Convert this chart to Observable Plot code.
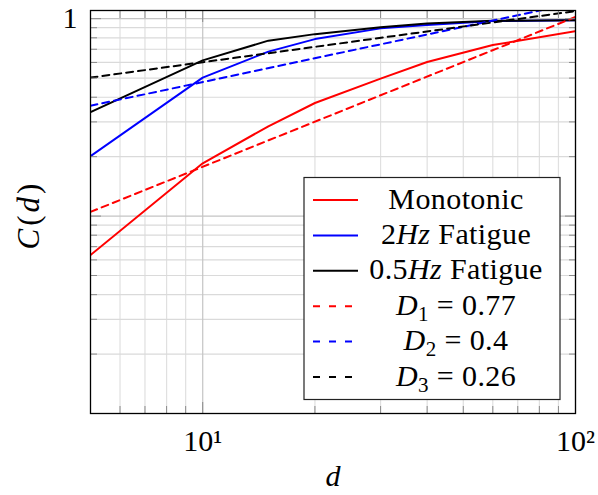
<!DOCTYPE html>
<html><head><meta charset="utf-8">
<script src="https://cdn.jsdelivr.net/npm/d3@7"></script>
<script src="https://cdn.jsdelivr.net/npm/@observablehq/plot@0.6"></script>
<style>
html,body{margin:0;padding:0;background:#fff;}
#chart{position:relative;width:598px;height:495px;}
svg, svg text, svg tspan{font-family:"Liberation Serif","DejaVu Serif","Noto Serif",serif !important;}
</style></head><body><div id="chart"></div>
<script>
// ---- data ----
const dValues = [5, 10, 15, 20, 30, 40, 60, 100];
const monotonic = [0.0635, 0.185, 0.285, 0.374, 0.497, 0.603, 0.735, 0.865];
const fatigue2Hz = [0.201, 0.503, 0.681, 0.788, 0.893, 0.93, 0.972, 0.982];
const fatigue05Hz = [0.336, 0.615, 0.774, 0.835, 0.905, 0.945, 0.975, 0.982];
const fitD = [5, 100];
const fitD1 = [0.105, 1.02];
const fitD2 = [0.362, 1.2];
const fitD3 = [0.503, 1.092];
const seriesNames = ["Monotonic", "2Hz Fatigue", "0.5Hz Fatigue", "D1 = 0.77", "D2 = 0.4", "D3 = 0.26"];
const seriesColors = ["#ff0000", "#0000ff", "#000000", "#ff0000", "#0000ff", "#000000"];
const seriesDashed = [false, false, false, true, true, true];
const legendParts = [
  [["Monotonic", ""]],
  [["2", ""], ["Hz", "i"], [" Fatigue", ""]],
  [["0.5", ""], ["Hz", "i"], [" Fatigue", ""]],
  [["D", "i"], ["1", "sub"], [" = 0.77", ""]],
  [["D", "i"], ["2", "sub"], [" = 0.4", ""]],
  [["D", "i"], ["3", "sub"], [" = 0.26", ""]]
];
const xMajorTicks = [10, 100];
const xTickLabels = ["10¹", "10²"];
const xMinorTicks = [6, 7, 8, 9, 20, 30, 40, 50, 60, 70, 80, 90];
const yMajorTicks = [0.1, 1];
const yMinorTicks = [0.02, 0.03, 0.04, 0.05, 0.06, 0.07, 0.08, 0.09, 0.2, 0.3, 0.4, 0.5, 0.6, 0.7, 0.8, 0.9];
const yLabelTicks = [1];
const yTickLabels = ["1"];

// ---- build rows ----
const seriesX = [dValues, dValues, dValues, fitD, fitD, fitD];
const seriesY = [monotonic, fatigue2Hz, fatigue05Hz, fitD1, fitD2, fitD3];
const series = seriesNames.map((name, i) => seriesX[i].map((d, j) => ({d, c: seriesY[i][j], s: name})));

const FONT = '"Liberation Serif","DejaVu Serif","Noto Serif",serif';
const tickColor = "#8a8a8a";
const W = 598, H = 495, ML = 90, MR = 23, MT = 10, MB = 82;

const plot = Plot.plot({
  width: W, height: H,
  marginLeft: ML, marginRight: MR, marginTop: MT, marginBottom: MB,
  x: {type: "log", domain: [5, 100]},
  y: {type: "log", domain: [0.01, 1.1]},
  style: {fontFamily: FONT, background: "white", color: "black"},
  marks: [
    Plot.gridX({ticks: xMinorTicks, stroke: "#e0e0e0", strokeOpacity: 1, strokeWidth: 1.2}),
    Plot.gridY({ticks: yMinorTicks, stroke: "#dadada", strokeOpacity: 1, strokeWidth: 1.2}),
    Plot.gridX({ticks: xMajorTicks, stroke: "#c4c4c4", strokeOpacity: 1, strokeWidth: 1.2}),
    Plot.gridY({ticks: yMajorTicks, stroke: "#c4c4c4", strokeOpacity: 1, strokeWidth: 1.2}),
    ...series.map((rows, i) => Plot.line(rows, {
      x: "d", y: "c", stroke: seriesColors[i], strokeWidth: 2,
      strokeDasharray: seriesDashed[i] ? "7,5" : null, clip: true
    })),
    // inward ticks on all four sides
    Plot.axisX({ticks: xMinorTicks, anchor: "bottom", tickSize: 7, dy: -7, fill: "none", stroke: tickColor, label: null}),
    Plot.axisX({ticks: xMajorTicks, anchor: "bottom", tickSize: 11, dy: -11, fill: "none", stroke: tickColor, label: null}),
    Plot.axisX({ticks: xMinorTicks, anchor: "top", tickSize: 7, dy: 7, fill: "none", stroke: tickColor, label: null}),
    Plot.axisX({ticks: xMajorTicks, anchor: "top", tickSize: 11, dy: 11, fill: "none", stroke: tickColor, label: null}),
    Plot.axisY({ticks: yMinorTicks, anchor: "left", tickSize: 7, dx: 7, fill: "none", stroke: tickColor, label: null}),
    Plot.axisY({ticks: yMajorTicks, anchor: "left", tickSize: 11, dx: 11, fill: "none", stroke: tickColor, label: null}),
    Plot.axisY({ticks: yMinorTicks, anchor: "right", tickSize: 7, dx: -7, fill: "none", stroke: tickColor, label: null}),
    Plot.axisY({ticks: yMajorTicks, anchor: "right", tickSize: 11, dx: -11, fill: "none", stroke: tickColor, label: null}),
    Plot.frame({stroke: "#000", strokeWidth: 1.3}),
    Plot.axisX({ticks: xMajorTicks, anchor: "bottom", tickSize: 0, tickPadding: 16, fontSize: 30,
      tickFormat: d => xTickLabels[xMajorTicks.indexOf(d)], label: null}),
    Plot.axisY({ticks: yLabelTicks, anchor: "left", tickSize: 0, tickPadding: 13, fontSize: 30,
      tickFormat: d => yTickLabels[yLabelTicks.indexOf(d)], label: null})
  ]
});

const svg = d3.select(plot);
svg.attr("font-family", FONT);

// axis titles
const yl = svg.append("text")
  .attr("transform", "translate(39,215) rotate(-90)")
  .attr("text-anchor", "middle").attr("font-size", 31).attr("letter-spacing", 3)
  .attr("fill", "black").attr("font-family", FONT);
yl.append("tspan").attr("font-style", "italic").text("C");
yl.append("tspan").text("(");
yl.append("tspan").attr("font-style", "italic").text("d");
yl.append("tspan").text(")");
svg.append("text").attr("x", 333).attr("y", 486).attr("text-anchor", "middle").attr("font-family", FONT)
  .attr("font-size", 30).attr("font-style", "italic").attr("fill", "black").text("d");

// legend
const lg = svg.append("g");
lg.append("rect").attr("x", 304).attr("y", 177.5).attr("width", 256).attr("height", 222)
  .attr("fill", "white").attr("stroke", "#222").attr("stroke-width", 1.2);
seriesNames.forEach((name, i) => {
  const cy = 200 + i * 35.4;
  lg.append("line").attr("x1", 313).attr("x2", 358).attr("y1", cy).attr("y2", cy)
    .attr("stroke", seriesColors[i]).attr("stroke-width", 2)
    .attr("stroke-dasharray", seriesDashed[i] ? "7,9" : null);
  const t = lg.append("text").attr("x", 456).attr("y", cy + 8.5).attr("text-anchor", "middle")
    .attr("font-family", FONT).attr("font-size", 30).attr("fill", "black").attr("letter-spacing", 0.4);
  const hasSub = legendParts[i].some(p => p[1] === "sub");
  legendParts[i].forEach(([txt, style], j) => {
    const sp = t.append("tspan").text(txt);
    if (style === "i") sp.attr("font-style", "italic");
    if (style === "sub") sp.attr("font-size", 21).attr("dy", 6);
    if (style === "" && hasSub && j > 0) sp.attr("dy", -6);
  });
});

document.getElementById("chart").appendChild(plot);
</script></body></html>
